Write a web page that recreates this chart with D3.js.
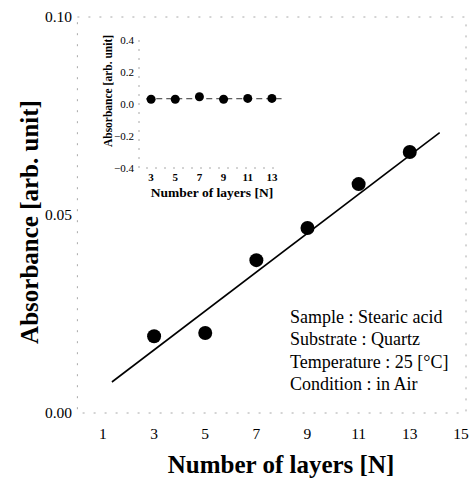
<!DOCTYPE html>
<html>
<head>
<meta charset="utf-8">
<script src="https://cdn.jsdelivr.net/npm/d3@7"></script>
<style>
  html, body { margin: 0; padding: 0; background: #fff; }
  svg { display: block; font-family: "Liberation Serif", "Times New Roman", serif; }
</style>
</head>
<body>
<div id="chart"></div>
<script>
// measured absorbance vs. number of LB layers
var layers = [3, 5, 7, 9, 11, 13];
var absorbance = [0.0194, 0.0202, 0.0386, 0.0467, 0.0578, 0.0659];

// least-squares line drawn through the points
var fitSlope = 0.00491;
var fitIntercept = 0.0012;
var fitRange = [1.35, 14.17];

var xTicks = [1, 3, 5, 7, 9, 11, 13, 15];
var yTicks = [0.00, 0.05, 0.10];

// inset: same layers on a wide absorbance range
var insetAbsorbance = [0.030, 0.030, 0.045, 0.030, 0.035, 0.035];
var insetFit = 0.033;
var insetFitRange = [2.6, 13.8];
var insetXTicks = [3, 5, 7, 9, 11, 13];
var insetYTicks = [0.4, 0.2, 0.0, -0.2, -0.4];

var legendLines = [
    "Sample : Stearic acid",
    "Substrate : Quartz",
    "Temperature : 25 [\u00B0C]",
    "Condition : in Air"
];

var width = 473, height = 481;

var svg = d3.select("#chart")
    .append("svg")
    .attr("width", width)
    .attr("height", height);

var x = d3.scaleLinear().domain([0, 15.2]).range([77.4, 466]);
var y = d3.scaleLinear().domain([0, 0.10]).range([413, 17]);

// faint dashed frame
var frame = svg.append("g")
    .attr("stroke", "#a8a8a8")
    .attr("stroke-width", 1)
    .attr("stroke-dasharray", "2,9")
    .attr("fill", "none");
frame.append("rect")
    .attr("x", x.range()[0])
    .attr("y", y.range()[1])
    .attr("width", x.range()[1] - x.range()[0])
    .attr("height", y.range()[0] - y.range()[1]);

// y tick labels
svg.append("g")
    .selectAll("text")
    .data(yTicks)
    .enter()
    .append("text")
    .attr("x", 72)
    .attr("y", function (d) { return y(d); })
    .attr("dy", "0.35em")
    .attr("text-anchor", "end")
    .attr("font-size", 15.5)
    .text(function (d) { return d3.format(".2f")(d); });

// x tick labels
svg.append("g")
    .selectAll("text")
    .data(xTicks)
    .enter()
    .append("text")
    .attr("x", function (d) { return x(d); })
    .attr("y", 439)
    .attr("text-anchor", "middle")
    .attr("font-size", 15.5)
    .text(function (d) { return d; });

// axis titles
svg.append("text")
    .attr("x", 281)
    .attr("y", 473)
    .attr("text-anchor", "middle")
    .attr("font-size", 25)
    .attr("font-weight", "bold")
    .text("Number of layers [N]");

svg.append("text")
    .attr("transform", "translate(38,222) rotate(-90)")
    .attr("text-anchor", "middle")
    .attr("font-size", 25)
    .attr("font-weight", "bold")
    .text("Absorbance [arb. unit]");

// fit line
svg.append("line")
    .attr("x1", x(fitRange[0]))
    .attr("y1", y(fitIntercept + fitSlope * fitRange[0]))
    .attr("x2", x(fitRange[1]))
    .attr("y2", y(fitIntercept + fitSlope * fitRange[1]))
    .attr("stroke", "#000")
    .attr("stroke-width", 1.6);

// data points
svg.append("g")
    .selectAll("circle")
    .data(layers)
    .enter()
    .append("circle")
    .attr("cx", function (d) { return x(d); })
    .attr("cy", function (d, i) { return y(absorbance[i]); })
    .attr("r", 7)
    .attr("fill", "#000");

// sample conditions
svg.append("g")
    .selectAll("text")
    .data(legendLines)
    .enter()
    .append("text")
    .attr("x", 290)
    .attr("y", function (d, i) { return 323 + i * 22.4; })
    .attr("font-size", 18)
    .text(function (d) { return d; });

// ---- inset ----
var ix = d3.scaleLinear().domain([2, 14]).range([139, 284]);
var iy = d3.scaleLinear().domain([-0.4, 0.4]).range([168, 40]);

var inset = svg.append("g");

inset.append("path")
    .attr("d", "M" + ix(2) + "," + iy(0.4) + "V" + iy(-0.4) + "H" + ix(13.6))
    .attr("fill", "none")
    .attr("stroke", "#a8a8a8")
    .attr("stroke-dasharray", "2,7");

inset.append("g")
    .selectAll("text")
    .data(insetYTicks)
    .enter()
    .append("text")
    .attr("x", 134)
    .attr("y", function (d) { return iy(d); })
    .attr("dy", "0.35em")
    .attr("text-anchor", "end")
    .attr("font-size", 11)
    .text(function (d) { return d3.format(".1f")(d); });

inset.append("g")
    .selectAll("text")
    .data(insetXTicks)
    .enter()
    .append("text")
    .attr("x", function (d) { return ix(d); })
    .attr("y", 181)
    .attr("text-anchor", "middle")
    .attr("font-size", 11)
    .attr("font-weight", "bold")
    .text(function (d) { return d; });

inset.append("text")
    .attr("x", 212)
    .attr("y", 197)
    .attr("text-anchor", "middle")
    .attr("font-size", 13.5)
    .attr("font-weight", "bold")
    .text("Number of layers [N]");

inset.append("text")
    .attr("transform", "translate(112,91) rotate(-90)")
    .attr("text-anchor", "middle")
    .attr("font-size", 11.5)
    .attr("font-weight", "bold")
    .text("Absorbance  [arb. unit]");

inset.append("line")
    .attr("x1", ix(insetFitRange[0]))
    .attr("x2", ix(insetFitRange[1]))
    .attr("y1", iy(insetFit))
    .attr("y2", iy(insetFit))
    .attr("stroke", "#333")
    .attr("stroke-width", 1)
    .attr("stroke-dasharray", "6,4");

inset.append("g")
    .selectAll("circle")
    .data(insetXTicks)
    .enter()
    .append("circle")
    .attr("cx", function (d) { return ix(d); })
    .attr("cy", function (d, i) { return iy(insetAbsorbance[i]); })
    .attr("r", 4.5)
    .attr("fill", "#000");
</script>
</body>
</html>
